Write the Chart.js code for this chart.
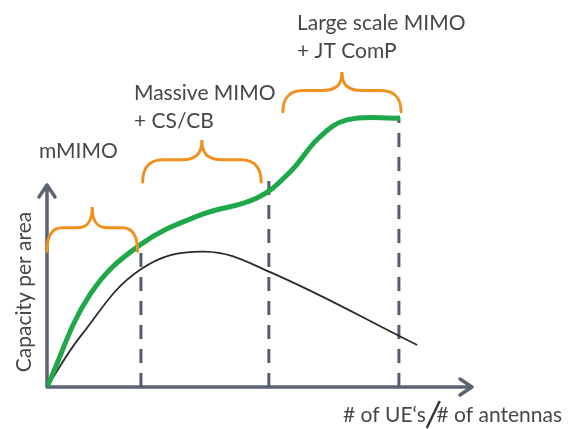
<!DOCTYPE html>
<html>
<head>
<meta charset="utf-8">
<script src="https://cdn.jsdelivr.net/npm/chart.js@4/dist/chart.umd.min.js"></script>
<style>
  body { margin: 0; background: #fff; }
  #wrap { width: 568px; height: 429px; position: relative; }
</style>
</head>
<body>
<div id="wrap"><canvas id="chart"></canvas></div>
<script>
// capacity curves (arbitrary units)
const greenX = [0, 10.1, 21.9, 36.0, 49.4, 57.2, 64.0, 70.6, 83.1];
const greenY = [0, 24.8, 38.2, 46.2, 50.8, 57.8, 67.0, 71.8, 72.3];
const blackX = [0, 8.0, 21.9, 37.0, 52.5, 87.1];
const blackY = [0, 13.8, 31.5, 36.4, 30.9, 11.3];

// region boundaries (dashed lines)
const markX = [22.1, 52.2, 82.8];
const markTop = [38.2, 56.2, 72.3];

// braces over each region
const braceFrom = [0, 22.5, 55.5];
const braceTo = [21.3, 50.4, 83.3];
const braceEnd = [36.5, 55.1, 74.0];
const braceTip = [48.4, 66.4, 84.7];

const regionLabels = [['mMIMO'], ['Massive MIMO', '+ CS/CB'], ['Large scale MIMO', '+ JT ComP']];
const yAxisTop = 54.3;
const yTitle = 'Capacity per area';
const xTitle = ['# of UE\u2018s', '# of antennas'];

const toPts = (xs, ys) => xs.map((x, i) => ({ x: x, y: ys[i] }));

const dashedSets = markX.map((x, i) => ({
    data: [{ x: x, y: 0 }, { x: x, y: markTop[i] }],
    borderColor: '#555d6b',
    borderWidth: 3,
    borderDash: [14, 10],
    pointRadius: 0,
    showLine: true,
    order: 3
}));

const decor = {
    id: 'decor',
    beforeDatasetsDraw(chart) {
        const ctx = chart.ctx;
        const xs = chart.scales.x, ys = chart.scales.y;
        const x0 = xs.getPixelForValue(0), y0 = ys.getPixelForValue(0);
        const xEnd = xs.getPixelForValue(100), yEnd = ys.getPixelForValue(yAxisTop);
        ctx.save();
        ctx.strokeStyle = '#5b6470';
        ctx.lineWidth = 3.5;
        ctx.lineCap = 'round';
        ctx.lineJoin = 'round';
        ctx.beginPath();
        ctx.moveTo(x0, y0); ctx.lineTo(xEnd, y0);
        ctx.moveTo(xEnd - 12, y0 - 8); ctx.lineTo(xEnd, y0); ctx.lineTo(xEnd - 12, y0 + 8);
        ctx.moveTo(x0, y0); ctx.lineTo(x0, yEnd);
        ctx.moveTo(x0 - 8, yEnd + 12); ctx.lineTo(x0, yEnd); ctx.lineTo(x0 + 8, yEnd + 12);
        ctx.stroke();
        ctx.restore();
    },
    afterDatasetsDraw(chart) {
        const ctx = chart.ctx;
        const xs = chart.scales.x, ys = chart.scales.y;
        ctx.save();
        // braces
        ctx.strokeStyle = '#f0901e';
        ctx.lineWidth = 3;
        ctx.lineCap = 'round';
        braceFrom.forEach((b, i) => {
            const a = xs.getPixelForValue(b), c = xs.getPixelForValue(braceTo[i]);
            const m = (a + c) / 2;
            const ye = ys.getPixelForValue(braceEnd[i]), yt = ys.getPixelForValue(braceTip[i]);
            const ym = ye - (ye - yt) * 0.53;
            const q = (c - a) * 0.17;
            ctx.beginPath();
            ctx.moveTo(a, ye);
            ctx.bezierCurveTo(a, ye - (ye - ym) * 0.6, a + q * 0.3, ym, a + q, ym);
            ctx.lineTo(m - q, ym);
            ctx.bezierCurveTo(m - q * 0.3, ym, m, ym - (ym - yt) * 0.3, m, yt);
            ctx.bezierCurveTo(m, ym - (ym - yt) * 0.3, m + q * 0.3, ym, m + q, ym);
            ctx.lineTo(c - q, ym);
            ctx.bezierCurveTo(c - q * 0.3, ym, c, ye - (ye - ym) * 0.6, c, ye);
            ctx.stroke();
        });

        // labels
        ctx.fillStyle = '#474747';
        ctx.font = '21px Lato';
        ctx.textBaseline = 'alphabetic';
        ctx.textAlign = 'left';
        const pos = [[39, 158], [134, 100], [297, 30]];
        regionLabels.forEach((lines, i) => {
            lines.forEach((t, j) => ctx.fillText(t, pos[i][0], pos[i][1] + j * 28));
        });

        // axis titles
        ctx.save();
        ctx.translate(31, 292);
        ctx.rotate(-Math.PI / 2);
        ctx.textAlign = 'center';
        ctx.fillText(yTitle, 0, 0);
        ctx.restore();

        ctx.textAlign = 'left';
        const w0 = ctx.measureText(xTitle[0]).width;
        ctx.fillText(xTitle[0], 343, 422);
        const sx = 343 + w0 + 1;
        ctx.strokeStyle = '#333';
        ctx.lineWidth = 2.4;
        ctx.lineCap = 'butt';
        ctx.beginPath();
        ctx.moveTo(sx, 428); ctx.lineTo(sx + 13, 401);
        ctx.stroke();
        ctx.textAlign = 'right';
        ctx.fillText(xTitle[1], 562, 422);
        ctx.restore();
    }
};

new Chart(document.getElementById('chart'), {
    type: 'scatter',
    data: {
        datasets: [
            {
                data: toPts(greenX, greenY),
                borderColor: '#1fa84a',
                borderWidth: 5,
                pointRadius: 0,
                showLine: true,
                tension: 0.4,
                order: 1
            },
            {
                data: toPts(blackX, blackY),
                borderColor: '#2b2b2b',
                borderWidth: 1.8,
                pointRadius: 0,
                showLine: true,
                tension: 0.4,
                order: 2
            },
            ...dashedSets
        ]
    },
    options: {
        responsive: true,
        maintainAspectRatio: false,
        animation: false,
        layout: { padding: { left: 47, right: 96, top: 15, bottom: 42 } },
        scales: {
            x: { type: 'linear', min: 0, max: 100, display: false },
            y: { type: 'linear', min: 0, max: 100, display: false }
        },
        plugins: {
            legend: { display: false },
            tooltip: { enabled: false }
        }
    },
    plugins: [decor]
});
</script>
</body>
</html>
